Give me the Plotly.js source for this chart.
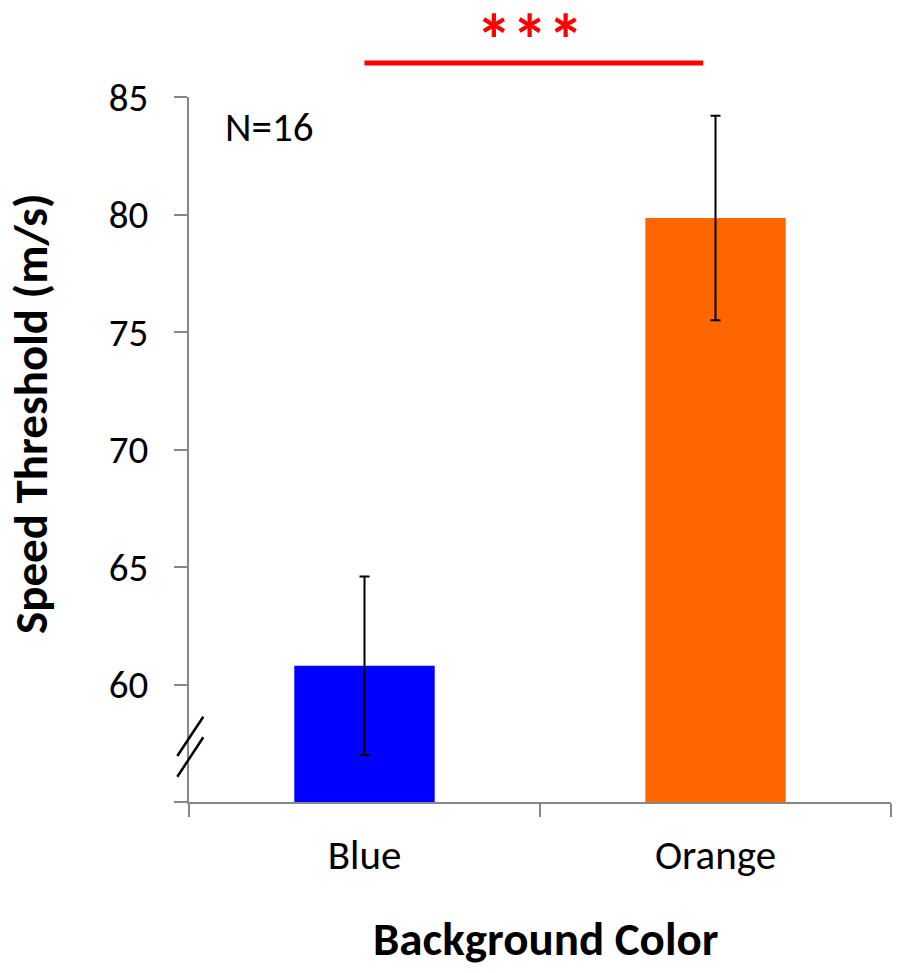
<!DOCTYPE html>
<html>
<head>
<meta charset="utf-8">
<script src="https://cdn.plot.ly/plotly-3.0.1.min.js"></script>
<style>html,body{margin:0;padding:0;background:#fff;}#chart{width:900px;height:973px;}</style>
</head>
<body>
<div id="chart"></div>
<script>
const categories = ['Blue', 'Orange'];
const meanValues = [60.8, 79.85];
const errorValues = [3.8, 4.35];
const barColors = ['#0000FF', '#FF6600'];
const yTickVals = [55, 60, 65, 70, 75, 80, 85];
const yTickText = ['', '60', '65', '70', '75', '80', '85'];

const FONT = 'Carlito, Lato, "Open Sans", sans-serif';

const trace = {
  type: 'bar',
  x: categories,
  y: meanValues,
  width: 0.4,
  marker: {color: barColors, line: {width: 0}},
  error_y: {type: 'data', array: errorValues, visible: true, color: '#000000', thickness: 2, width: 5},
  hoverinfo: 'none'
};

function py(p) { return (802 - p) / 705; }
function px(p) { return (p - 189) / 702; }

const layout = {
  width: 900, height: 973,
  margin: {l: 189, r: 9, t: 97, b: 171},
  paper_bgcolor: '#fff', plot_bgcolor: '#fff',
  showlegend: false,
  font: {family: FONT, color: '#000'},
  xaxis: {
    type: 'category', range: [-0.5, 1.5],
    showline: true, linecolor: '#878787', linewidth: 2,
    ticks: 'outside', tickson: 'boundaries', ticklen: 13, tickcolor: '#878787', tickwidth: 2,
    tickfont: {size: 41, family: FONT, color: '#000'},
    ticklabelstandoff: 16,
    showgrid: false, zeroline: false, fixedrange: true
  },
  yaxis: {
    range: [55, 85],
    tickvals: yTickVals, ticktext: yTickText,
    showline: true, linecolor: '#878787', linewidth: 2,
    ticks: 'outside', ticklen: 13, tickcolor: '#878787', tickwidth: 2,
    tickfont: {size: 39, family: FONT, color: '#000'},
    ticklabelstandoff: 18,
    showgrid: false, zeroline: false, fixedrange: true
  },
  shapes: [
    {type: 'line', xref: 'x', yref: 'paper', x0: 0, x1: 0.965, y0: py(63), y1: py(63), line: {color: '#FF0000', width: 5}},
    {type: 'line', xref: 'paper', yref: 'paper', x0: px(177.3), y0: py(756), x1: px(203.3), y1: py(716.7), line: {color: '#000', width: 2.5}},
    {type: 'line', xref: 'paper', yref: 'paper', x0: px(177.3), y0: py(776.7), x1: px(203.3), y1: py(737.3), line: {color: '#000', width: 2.5}}
  ],
  annotations: [
    {text: 'N=16', xref: 'paper', yref: 'paper', x: px(223), y: py(127), xanchor: 'left', yanchor: 'middle', showarrow: false, font: {size: 41, family: FONT, color: '#000'}},
    {text: '<b>***</b>', xref: 'paper', yref: 'paper', x: px(530), y: py(7), xanchor: 'center', yanchor: 'top', height: 64, valign: 'middle', showarrow: false, font: {size: 72, family: FONT, color: '#FF0000'}},
    {text: '<b>Speed Threshold (m/s)</b>', xref: 'paper', yref: 'paper', x: px(31), y: py(414), xanchor: 'center', yanchor: 'middle', textangle: -90, showarrow: false, font: {size: 47, family: FONT, color: '#000'}},
    {text: '<b>Background Color</b>', xref: 'paper', yref: 'paper', x: px(546), y: py(939), xanchor: 'center', yanchor: 'middle', showarrow: false, font: {size: 47, family: FONT, color: '#000'}}
  ]
};

Plotly.newPlot('chart', [trace], layout, {staticPlot: true, displayModeBar: false});
</script>
</body>
</html>
